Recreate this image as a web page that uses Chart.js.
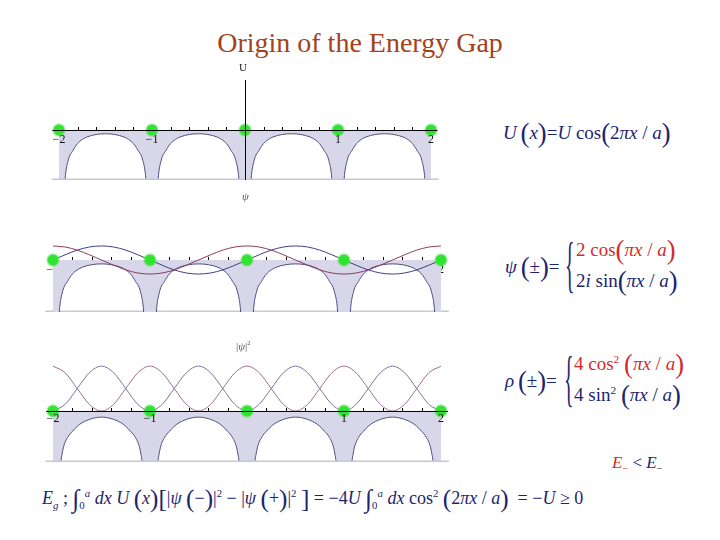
<!DOCTYPE html>
<html>
<head>
<meta charset="utf-8">
<script src="https://cdn.jsdelivr.net/npm/chart.js@4.4.1/dist/chart.umd.min.js"></script>
<style>
  body { margin: 0; background: #fff; }
  #slide { position: relative; width: 720px; height: 540px; overflow: hidden; font-family: "Liberation Serif", "DejaVu Serif", serif; }
  #slide canvas { position: absolute; }
  .title { position: absolute; left: 0; width: 720px; top: 27px; text-align: center; font-size: 28px; color: #a4421c; }
  .lbl { position: absolute; font-size: 11px; color: #222; }
  .eq { position: absolute; color: #1c2470; font-size: 19px; white-space: nowrap; line-height: 24px; }
  .red { color: #d42a2a; }
  .p { font-size: 1.4em; vertical-align: -0.1em; line-height: 0; }
  .brace { position: absolute; color: #1c2470; font-size: 62px; line-height: 62px; transform: scaleX(0.32); transform-origin: left top; }
  sup, sub { font-size: 0.6em; line-height: 0; }
</style>
</head>
<body>
<div id="slide">
  <div class="title">Origin of the Energy Gap</div>

  <canvas id="plotU" width="410" height="120" style="left:40px;top:60px"></canvas>
  <canvas id="plotPsi" width="410" height="122" style="left:42px;top:190px"></canvas>
  <canvas id="plotRho" width="410" height="122" style="left:42px;top:340px"></canvas>

  <div class="lbl" style="left:239px;top:61px">U</div>
  <div class="lbl" style="left:242px;top:190px;font-style:italic;color:#555">ψ</div>
  <div class="lbl" style="left:236px;top:340px;color:#555">|<i>ψ</i>|<sup>2</sup></div>

  <!-- formulas on the right -->
  <div class="eq" style="left:503px;top:121px"><i>U</i>&thinsp;<span class="p">(</span><i>x</i><span class="p">)</span>=<i>U</i> cos<span class="p">(</span>2<i>πx</i> / <i>a</i><span class="p">)</span></div>

  <div class="eq" style="left:505px;top:255px"><i>ψ</i>&thinsp;<span class="p">(</span>±<span class="p">)</span>=</div>
  <div class="brace" style="left:565px;top:233px">{</div>
  <div class="eq red" style="left:576px;top:238px">2 cos<span class="p">(</span><i>πx</i> / <i>a</i><span class="p">)</span></div>
  <div class="eq" style="left:576px;top:269px">2<i>i</i> sin<span class="p">(</span><i>πx</i> / <i>a</i><span class="p">)</span></div>

  <div class="eq" style="left:505px;top:369px"><i>ρ</i>&thinsp;<span class="p">(</span>±<span class="p">)</span>=</div>
  <div class="brace" style="left:564px;top:347px">{</div>
  <div class="eq red" style="left:574px;top:352px">4 cos<sup>2</sup> <span class="p">(</span><i>πx</i> / <i>a</i><span class="p">)</span></div>
  <div class="eq" style="left:574px;top:383px">4 sin<sup>2</sup> <span class="p">(</span><i>πx</i> / <i>a</i><span class="p">)</span></div>

  <div class="eq" style="left:612px;top:451px;font-size:17px"><span class="red"><i>E</i><sub>−</sub></span> &lt; <i>E</i><sub>−</sub></div>

  <div class="eq" style="left:42px;top:486px;font-size:18px"><i>E<sub>g</sub></i> ; <span class="p">∫</span><sub>0</sub><sup><i>a</i></sup> <i>dx U</i> <span class="p">(</span><i>x</i><span class="p">)</span><span class="p">[</span>|<i>ψ</i> <span class="p">(</span>−<span class="p">)</span>|<sup>2</sup> − |<i>ψ</i> <span class="p">(</span>+<span class="p">)</span>|<sup>2</sup> <span class="p">]</span> = −4<i>U</i> <span class="p">∫</span><sub>0</sub><sup><i>a</i></sup> <i>dx</i> cos<sup>2</sup> <span class="p">(</span>2<i>πx</i> / <i>a</i><span class="p">)</span> &nbsp;= −<i>U</i> ≥ 0</div>
</div>

<script>
// x positions (in units of a) where the potential was read
const xGrid = [
  -2, -1.97, -1.935, -1.9, -1.85, -1.8, -1.75, -1.7, -1.6, -1.5, -1.4, -1.3, -1.25, -1.2, -1.15, -1.1, -1.065, -1.03,
  -1, -0.97, -0.935, -0.9, -0.85, -0.8, -0.75, -0.7, -0.6, -0.5, -0.4, -0.3, -0.25, -0.2, -0.15, -0.1, -0.065, -0.03,
  0, 0.03, 0.065, 0.1, 0.15, 0.2, 0.25, 0.3, 0.4, 0.5, 0.6, 0.7, 0.75, 0.8, 0.85, 0.9, 0.935, 0.97,
  1, 1.03, 1.065, 1.1, 1.15, 1.2, 1.25, 1.3, 1.4, 1.5, 1.6, 1.7, 1.75, 1.8, 1.85, 1.9, 1.935, 1.97,
  2
];

// potential, top two panels (goes off the bottom near the ions)
const potentialU = [
  -5, -2.2, -1.0, -0.6, -0.41, -0.27, -0.19, -0.14, -0.09, -0.075, -0.09, -0.14, -0.19, -0.27, -0.41, -0.6, -1.0, -2.2,
  -5, -2.2, -1.0, -0.6, -0.41, -0.27, -0.19, -0.14, -0.09, -0.075, -0.09, -0.14, -0.19, -0.27, -0.41, -0.6, -1.0, -2.2,
  -5, -2.2, -1.0, -0.6, -0.41, -0.27, -0.19, -0.14, -0.09, -0.075, -0.09, -0.14, -0.19, -0.27, -0.41, -0.6, -1.0, -2.2,
  -5, -2.2, -1.0, -0.6, -0.41, -0.27, -0.19, -0.14, -0.09, -0.075, -0.09, -0.14, -0.19, -0.27, -0.41, -0.6, -1.0, -2.2,
  -5
];

// potential in the bottom panel (a bit wider well)
const potentialRho = [
  -5, -2.6, -1.3, -0.78, -0.52, -0.4, -0.3, -0.23, -0.15, -0.12, -0.15, -0.23, -0.3, -0.4, -0.52, -0.78, -1.3, -2.6,
  -5, -2.6, -1.3, -0.78, -0.52, -0.4, -0.3, -0.23, -0.15, -0.12, -0.15, -0.23, -0.3, -0.4, -0.52, -0.78, -1.3, -2.6,
  -5, -2.6, -1.3, -0.78, -0.52, -0.4, -0.3, -0.23, -0.15, -0.12, -0.15, -0.23, -0.3, -0.4, -0.52, -0.78, -1.3, -2.6,
  -5, -2.6, -1.3, -0.78, -0.52, -0.4, -0.3, -0.23, -0.15, -0.12, -0.15, -0.23, -0.3, -0.4, -0.52, -0.78, -1.3, -2.6,
  -5
];

// wave functions
const waveX = [-2, -1.875, -1.75, -1.625, -1.5, -1.375, -1.25, -1.125, -1, -0.875, -0.75, -0.625, -0.5, -0.375, -0.25, -0.125,
  0, 0.125, 0.25, 0.375, 0.5, 0.625, 0.75, 0.875, 1, 1.125, 1.25, 1.375, 1.5, 1.625, 1.75, 1.875, 2];
const psiPlus = [0.27, 0.25, 0.19, 0.10, 0, -0.10, -0.19, -0.25, -0.27, -0.25, -0.19, -0.10, 0, 0.10, 0.19, 0.25,
  0.27, 0.25, 0.19, 0.10, 0, -0.10, -0.19, -0.25, -0.27, -0.25, -0.19, -0.10, 0, 0.10, 0.19, 0.25, 0.27];
const psiMinus = [0, 0.10, 0.19, 0.25, 0.27, 0.25, 0.19, 0.10, 0, -0.10, -0.19, -0.25, -0.27, -0.25, -0.19, -0.10,
  0, 0.10, 0.19, 0.25, 0.27, 0.25, 0.19, 0.10, 0, -0.10, -0.19, -0.25, -0.27, -0.25, -0.19, -0.10, 0];
const rhoPlus = [0.88, 0.75, 0.44, 0.13, 0, 0.13, 0.44, 0.75, 0.88, 0.75, 0.44, 0.13, 0, 0.13, 0.44, 0.75,
  0.88, 0.75, 0.44, 0.13, 0, 0.13, 0.44, 0.75, 0.88, 0.75, 0.44, 0.13, 0, 0.13, 0.44, 0.75, 0.88];
const rhoMinus = [0, 0.13, 0.44, 0.75, 0.88, 0.75, 0.44, 0.13, 0, 0.13, 0.44, 0.75, 0.88, 0.75, 0.44, 0.13,
  0, 0.13, 0.44, 0.75, 0.88, 0.75, 0.44, 0.13, 0, 0.13, 0.44, 0.75, 0.88, 0.75, 0.44, 0.13, 0];

// ion positions and axis ticks
const ionX = [-2, -1, 0, 1, 2];
const minorTicks = [-1.8, -1.6, -1.4, -1.2, -0.8, -0.6, -0.4, -0.2, 0.2, 0.4, 0.6, 0.8, 1.2, 1.4, 1.6, 1.8];
const tickLabelX = [-2, -1, 1, 2];
const tickLabels = ['\u22122', '\u22121', '1', '2'];

const pts = (xs, ys) => xs.map((x, i) => ({ x: x, y: ys[i] }));

function ionDots() {
  return {
    data: ionX.map(x => ({ x: x, y: 0 })),
    showLine: false,
    pointRadius: 5.5,
    pointBackgroundColor: '#2ee42e',
    pointBorderColor: 'rgba(70,225,70,0.45)',
    pointBorderWidth: 2.5
  };
}

function wellSet(values) {
  return {
    data: pts(xGrid, values),
    borderColor: '#4f5080',
    borderWidth: 1,
    backgroundColor: '#d7d7e9',
    fill: 'origin',
    pointRadius: 0,
    cubicInterpolationMode: 'monotone'
  };
}

function waveSet(values, color) {
  return {
    data: pts(waveX, values),
    borderColor: color,
    borderWidth: 1,
    fill: false,
    pointRadius: 0,
    cubicInterpolationMode: 'monotone'
  };
}

// draws the x axis, ticks, labels and the grey bottom rule
function axisPlugin(o) {
  const draw = function (chart) {
    const { ctx, chartArea, scales: { x, y } } = chart;
    const y0 = y.getPixelForValue(0);
    ctx.save();
    ctx.strokeStyle = '#c4c8d4';
    ctx.lineWidth = 1.5;
    ctx.beginPath();
    ctx.moveTo(x.getPixelForValue(-2.08), chartArea.bottom - 0.75);
    ctx.lineTo(x.getPixelForValue(2.08), chartArea.bottom - 0.75);
    ctx.stroke();

    ctx.strokeStyle = '#000';
    ctx.lineWidth = 1;
    if (o.axisLine) {
      ctx.beginPath();
      ctx.moveTo(x.getPixelForValue(-2.07), y0 + 0.5);
      ctx.lineTo(x.getPixelForValue(2.07), y0 + 0.5);
      ctx.stroke();
    }
    minorTicks.forEach(v => {
      const px = Math.round(x.getPixelForValue(v)) + 0.5;
      ctx.beginPath();
      ctx.moveTo(px, y0);
      ctx.lineTo(px, y0 - 3);
      ctx.stroke();
    });
    if (o.yAxis) {
      const px = Math.round(x.getPixelForValue(0)) + 0.5;
      ctx.beginPath();
      ctx.moveTo(px, y.getPixelForValue(1.0));
      ctx.lineTo(px, chartArea.bottom);
      ctx.stroke();
    }
    ctx.fillStyle = '#111';
    ctx.font = '12px "Liberation Serif", serif';
    ctx.textAlign = 'center';
    tickLabels.forEach((t, i) => {
      ctx.fillText(t, x.getPixelForValue(tickLabelX[i]), y0 + o.labelDrop);
    });
    ctx.restore();
  };
  const p = { id: 'axisDraw' };
  if (o.under) p.beforeDatasetsDraw = draw; else p.afterDatasetsDraw = draw;
  return p;
}

function makeChart(id, xHalf, yMin, yMax, datasets, axisOpts) {
  return new Chart(document.getElementById(id), {
    type: 'line',
    data: { datasets: datasets },
    options: {
      responsive: false,
      animation: false,
      events: [],
      layout: { padding: 0, autoPadding: false },
      plugins: { legend: { display: false }, tooltip: { enabled: false } },
      scales: {
        x: { type: 'linear', display: false, min: -xHalf, max: xHalf },
        y: { display: false, min: yMin, max: yMax }
      }
    },
    plugins: [axisPlugin(axisOpts)]
  });
}

makeChart('plotU', 2.2043, -1, 1.4,
  [ionDots(), wellSet(potentialU)],
  { axisLine: true, yAxis: true, under: false, labelDrop: 13 });

makeChart('plotPsi', 2.1134, -1, 1.346,
  [ionDots(), waveSet(psiPlus, '#8a3c62'), waveSet(psiMinus, '#3e3f80'), wellSet(potentialU)],
  { axisLine: false, yAxis: false, under: true, labelDrop: 13 });

makeChart('plotRho', 2.1134, -1, 1.392,
  [ionDots(), waveSet(rhoPlus, '#9a7090'), waveSet(rhoMinus, '#7a74a0'), wellSet(potentialRho)],
  { axisLine: true, yAxis: false, under: false, labelDrop: 11 });
</script>
</body>
</html>
